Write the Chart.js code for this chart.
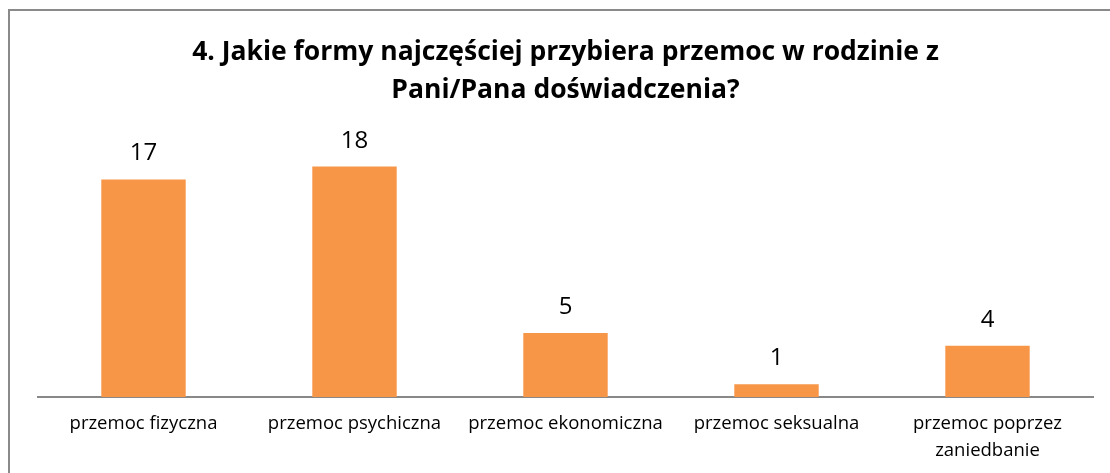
<!DOCTYPE html>
<html>
<head>
<meta charset="utf-8">
<script src="https://cdn.jsdelivr.net/npm/chart.js@4"></script>
<style>
  html, body { margin: 0; padding: 0; background: #fff; overflow: hidden; }
  #frame {
    position: absolute; left: 8px; top: 9px;
    width: 1200px; height: 600px;
    border: 2px solid #8a8a8a; box-sizing: border-box;
  }
  #wrap { position: absolute; left: 0; top: 0; width: 1110px; height: 478px; }
</style>
</head>
<body>
<div id="frame"></div>
<div id="wrap"><canvas id="chart"></canvas></div>
<script>
// Chart data
const categories = [
  'przemoc fizyczna',
  'przemoc psychiczna',
  'przemoc ekonomiczna',
  'przemoc seksualna',
  ['przemoc poprzez', 'zaniedbanie'],
];
const counts = [17, 18, 5, 1, 4];
const titleLines = [
  '4. Jakie formy najczęściej przybiera przemoc w rodzinie z',
  'Pani/Pana doświadczenia?',
];

// Plugin to draw values above bars
const valueLabels = {
  id: 'valueLabels',
  afterDatasetsDraw(chart) {
    const { ctx } = chart;
    const meta = chart.getDatasetMeta(0);
    ctx.save();
    ctx.fillStyle = '#000';
    ctx.font = '24px "Open Sans", sans-serif';
    ctx.textAlign = 'center';
    ctx.textBaseline = 'alphabetic';
    meta.data.forEach((bar, i) => {
      ctx.fillText(String(counts[i]), bar.x, bar.y - 19);
    });
    ctx.restore();
  },
};

new Chart(document.getElementById('chart'), {
  type: 'bar',
  data: {
    labels: categories,
    datasets: [
      {
        data: counts,
        backgroundColor: '#F79646',
        borderWidth: 0,
        barPercentage: 0.4,
        categoryPercentage: 1,
      },
    ],
  },
  options: {
    responsive: true,
    maintainAspectRatio: false,
    animation: false,
    layout: { padding: { top: 9, left: 38, right: 17, bottom: 0 } },
    plugins: {
      legend: { display: false },
      tooltip: { enabled: false },
      title: {
        display: true,
        text: titleLines,
        color: '#000',
        font: { family: '"Open Sans", sans-serif', size: 26.5, weight: 'bold', lineHeight: 38 / 26.5 },
        padding: { top: 24, bottom: 32 },
      },
    },
    scales: {
      x: {
        grid: { display: false, drawTicks: false },
        border: { display: true, color: '#888', width: 2 },
        ticks: {
          color: '#000',
          font: { family: '"Open Sans", sans-serif', size: 18.5, lineHeight: 27 / 18.5 },
          padding: 13.5,
          maxRotation: 0,
          autoSkip: false,
        },
      },
      y: {
        display: false,
        min: 0,
        max: 20,
      },
    },
  },
  plugins: [valueLabels],
});
</script>
</body>
</html>
